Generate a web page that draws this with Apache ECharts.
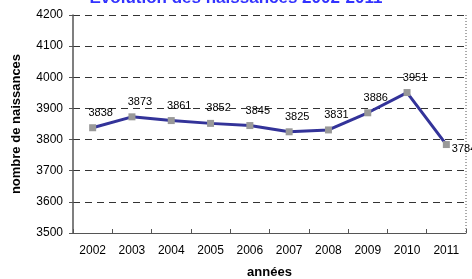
<!DOCTYPE html>
<html>
<head>
<meta charset="utf-8">
<script src="https://cdn.jsdelivr.net/npm/echarts@6/dist/echarts.min.js"></script>
<style>
  html, body { margin: 0; padding: 0; background: #fff; }
  #chart { width: 472px; height: 279px; }
</style>
</head>
<body>
<div id="chart"></div>
<script>
// années et nombre de naissances
const years = ['2002', '2003', '2004', '2005', '2006', '2007', '2008', '2009', '2010', '2011'];
const births = [3838, 3873, 3861, 3852, 3845, 3825, 3831, 3886, 3951, 3784];
const yTicks = [3500, 3600, 3700, 3800, 3900, 4000, 4100, 4200];

const chart = echarts.init(document.getElementById('chart'));

const option = {
  animation: false,
  textStyle: { fontFamily: 'Liberation Sans, Arial, sans-serif' },
  title: {
    text: 'Evolution des naissances 2002-2011',
    left: 'center',
    top: -15,
    textStyle: { color: '#3333ff', fontSize: 17, fontWeight: 'bold' }
  },
  grid: { left: 73, right: 6, top: 15, bottom: 46, outerBoundsMode: 'none', containLabel: false },
  xAxis: {
    type: 'category',
    data: years,
    name: 'années',
    nameLocation: 'middle',
    nameGap: 33,
    nameTextStyle: { fontSize: 13, fontWeight: 'bold', color: '#000' },
    axisLine: { lineStyle: { color: '#555', width: 1 } },
    axisTick: { show: true, inside: true, length: 4, lineStyle: { color: '#555' } },
    axisLabel: { color: '#000', fontSize: 12, margin: 12 },
    splitLine: { show: false }
  },
  yAxis: {
    type: 'value',
    min: yTicks[0],
    max: yTicks[yTicks.length - 1],
    interval: 100,
    name: 'nombre de naissances',
    nameLocation: 'middle',
    nameGap: 50,
    nameTextStyle: { fontSize: 13, fontWeight: 'bold', color: '#000' },
    axisLine: { show: true, lineStyle: { color: '#555', width: 1.5 } },
    axisTick: { show: true, length: 4, lineStyle: { color: '#555' } },
    axisLabel: { color: '#000', fontSize: 12, margin: 10, formatter: v => String(v) },
    splitLine: { lineStyle: { color: '#333', type: [7, 5], width: 1 } }
  },
  series: [{
    type: 'line',
    data: births.map((v, i) => ({
      value: v,
      label: i === births.length - 1
        ? { position: 'right', offset: [-3, 4] }
        : { position: 'top', offset: [8, -1] }
    })),
    symbol: 'rect',
    symbolSize: 7,
    itemStyle: { color: '#999999' },
    lineStyle: { color: '#333399', width: 3 },
    label: { show: true, color: '#000', fontSize: 11 },
    z: 3
  }],
  graphic: [{
    type: 'line',
    shape: { x1: 466, y1: 15, x2: 466, y2: 233 },
    style: { stroke: '#555', lineWidth: 1, lineDash: [1, 2] }
  }]
};

chart.setOption(option);
</script>
</body>
</html>
